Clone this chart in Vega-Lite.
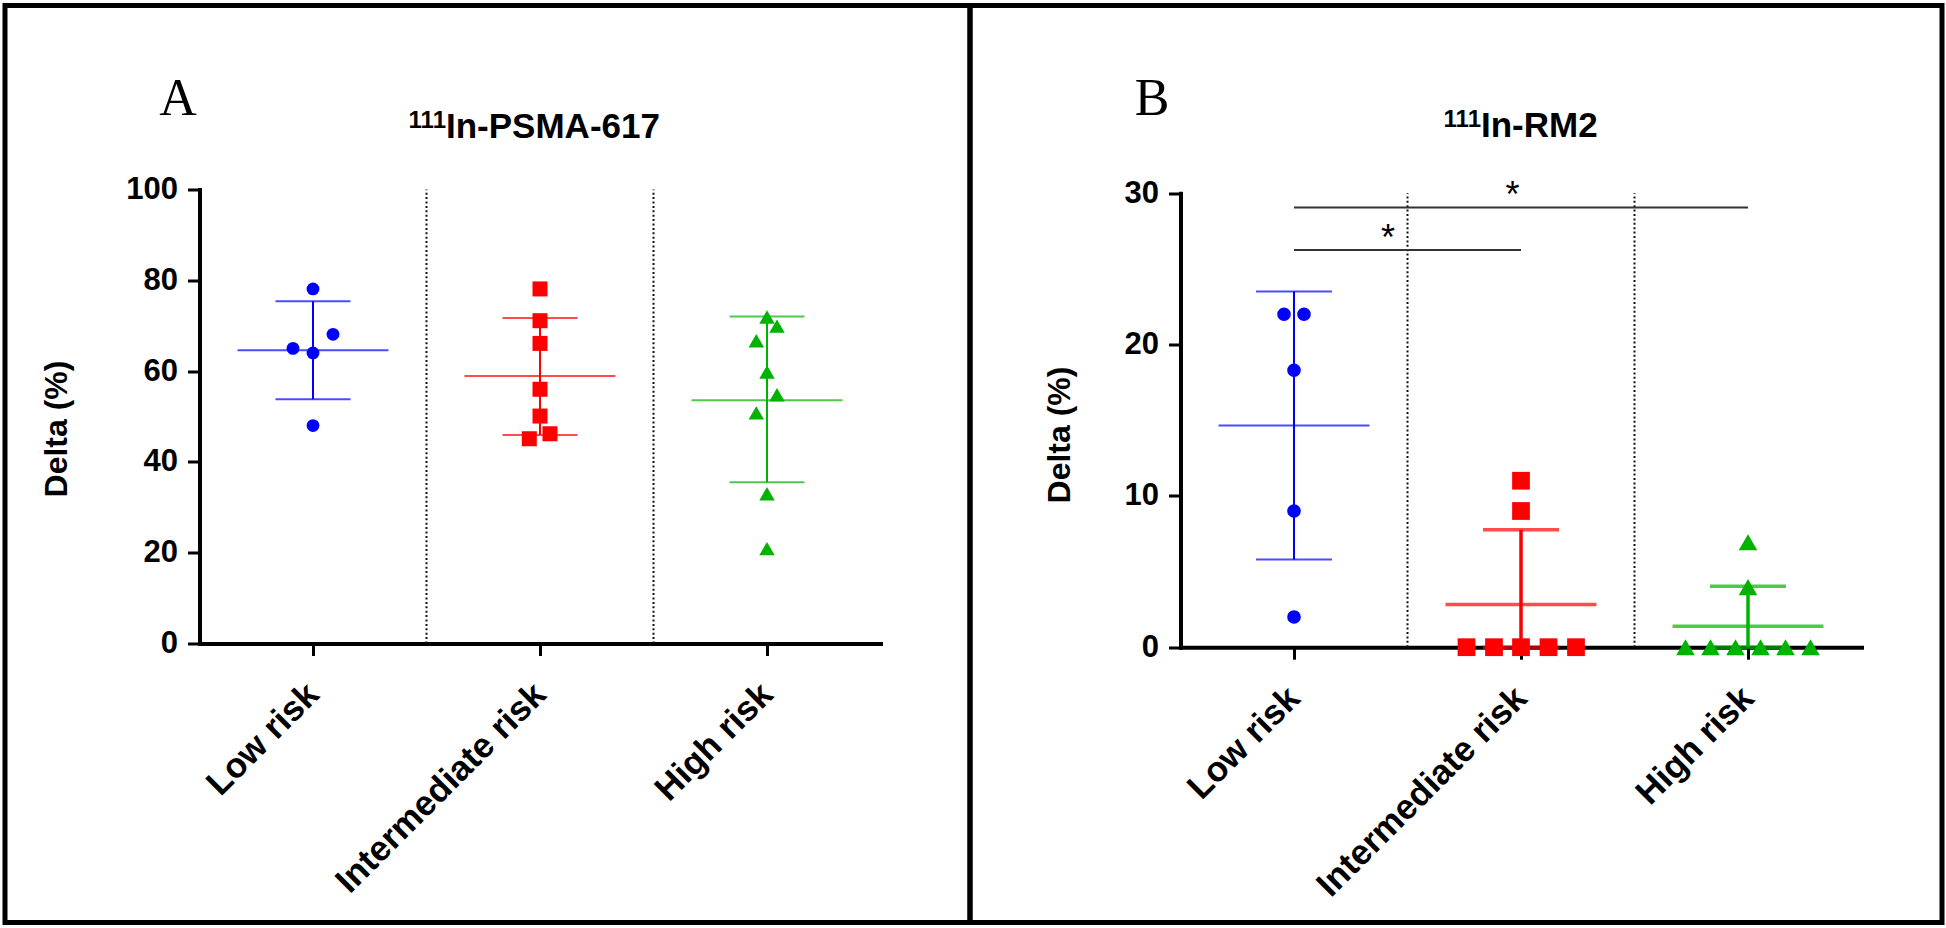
{
  "$schema": "https://vega.github.io/schema/vega-lite/v6.json",
  "background": "white",
  "padding": {"left": 2, "top": 2.5, "right": 0, "bottom": 0},
  "spacing": 0,
  "bounds": "flush",
  "config": {
    "font": "Liberation Sans",
    "view": {"stroke": "black", "strokeWidth": 5},
    "axis": {"grid": false, "domainColor": "black", "tickColor": "black", "labelColor": "black", "titleColor": "black", "domainWidth": 4, "tickWidth": 3, "tickSize": 12, "labelFont": "Liberation Sans", "titleFont": "Liberation Sans", "labelFontWeight": "bold", "titleFontWeight": "bold", "titleFontSize": 32, "labelFlush": false, "labelOverlap": false, "labelLimit": 0, "domainCap": "square"}
  },
  "datasets": {
    "points": [
      {"panel": "A", "group": "Low risk", "value": 78.1, "slot": 0},
      {"panel": "A", "group": "Low risk", "value": 68.1, "slot": 2},
      {"panel": "A", "group": "Low risk", "value": 65.0, "slot": -2},
      {"panel": "A", "group": "Low risk", "value": 64.0, "slot": 0},
      {"panel": "A", "group": "Low risk", "value": 48.0, "slot": 0},
      {"panel": "A", "group": "Intermediate risk", "value": 78.1, "slot": 0},
      {"panel": "A", "group": "Intermediate risk", "value": 71.1, "slot": 0},
      {"panel": "A", "group": "Intermediate risk", "value": 66.1, "slot": 0},
      {"panel": "A", "group": "Intermediate risk", "value": 56.0, "slot": 0},
      {"panel": "A", "group": "Intermediate risk", "value": 50.1, "slot": 0},
      {"panel": "A", "group": "Intermediate risk", "value": 45.1, "slot": -1.07},
      {"panel": "A", "group": "Intermediate risk", "value": 46.2, "slot": 1},
      {"panel": "A", "group": "High risk", "value": 71.9, "slot": 0},
      {"panel": "A", "group": "High risk", "value": 69.9, "slot": 1},
      {"panel": "A", "group": "High risk", "value": 66.7, "slot": -1.07},
      {"panel": "A", "group": "High risk", "value": 59.8, "slot": 0},
      {"panel": "A", "group": "High risk", "value": 54.8, "slot": 1},
      {"panel": "A", "group": "High risk", "value": 50.8, "slot": -1.07},
      {"panel": "A", "group": "High risk", "value": 33.0, "slot": 0},
      {"panel": "A", "group": "High risk", "value": 20.9, "slot": 0},
      {"panel": "B", "group": "Low risk", "value": 22.0, "slot": -1},
      {"panel": "B", "group": "Low risk", "value": 22.0, "slot": 1},
      {"panel": "B", "group": "Low risk", "value": 18.3, "slot": 0},
      {"panel": "B", "group": "Low risk", "value": 9.0, "slot": 0},
      {"panel": "B", "group": "Low risk", "value": 2.0, "slot": 0},
      {"panel": "B", "group": "Intermediate risk", "value": 11.0, "slot": 0},
      {"panel": "B", "group": "Intermediate risk", "value": 9.0, "slot": 0},
      {"panel": "B", "group": "Intermediate risk", "value": 0, "slot": -5.45},
      {"panel": "B", "group": "Intermediate risk", "value": 0, "slot": -2.7},
      {"panel": "B", "group": "Intermediate risk", "value": 0, "slot": 0},
      {"panel": "B", "group": "Intermediate risk", "value": 0, "slot": 2.75},
      {"panel": "B", "group": "Intermediate risk", "value": 0, "slot": 5.5},
      {"panel": "B", "group": "High risk", "value": 6.94, "slot": 0},
      {"panel": "B", "group": "High risk", "value": 3.97, "slot": 0},
      {"panel": "B", "group": "High risk", "value": 0, "slot": -6.25},
      {"panel": "B", "group": "High risk", "value": 0, "slot": -3.75},
      {"panel": "B", "group": "High risk", "value": 0, "slot": -1.25},
      {"panel": "B", "group": "High risk", "value": 0, "slot": 1.25},
      {"panel": "B", "group": "High risk", "value": 0, "slot": 3.75},
      {"panel": "B", "group": "High risk", "value": 0, "slot": 6.25}
    ],
    "summary": [
      {"panel": "A", "group": "Low risk", "mean": 64.6, "lo": 53.8, "hi": 75.4},
      {"panel": "A", "group": "Intermediate risk", "mean": 58.9, "lo": 45.9, "hi": 71.7},
      {"panel": "A", "group": "High risk", "mean": 53.6, "lo": 35.5, "hi": 72.0},
      {"panel": "B", "group": "Low risk", "mean": 14.65, "lo": 5.8, "hi": 23.5},
      {"panel": "B", "group": "Intermediate risk", "mean": 2.82, "lo": 0, "hi": 7.76},
      {"panel": "B", "group": "High risk", "mean": 1.39, "lo": 0, "hi": 4.03}
    ],
    "separators": [
      {"panel": "A", "group": "Intermediate risk"},
      {"panel": "A", "group": "High risk"},
      {"panel": "B", "group": "Intermediate risk"},
      {"panel": "B", "group": "High risk"}
    ],
    "sig": [
      {"from": "Low risk", "to": "High risk", "y": 29.06, "star": "*", "at": "Intermediate risk", "shift": -0.85},
      {"from": "Low risk", "to": "Intermediate risk", "y": 26.24, "star": "*", "at": "Low risk", "shift": 9.4}
    ]
  },
  "hconcat": [
    {
      "width": 965,
      "height": 917,
      "layer": [
        {
          "data": {"name": "separators"},
          "transform": [{"filter": "datum.panel === 'A'"}],
          "mark": {"type": "rule", "color": "#111111", "strokeWidth": 2, "strokeDash": [2, 2.4]},
          "encoding": {
            "x": {"field": "group", "type": "nominal", "bandPosition": 0, "title": null, "scale": {"domain": ["Low risk", "Intermediate risk", "High risk"], "range": [194.5, 875.5], "paddingInner": 0, "paddingOuter": 0}, "axis": {"title": null, "offset": -279, "labelAngle": -45, "labelAlign": "right", "labelBaseline": "middle", "labelFontSize": 35, "labelPadding": 33}},
            "y": {"datum": 0, "type": "quantitative", "title": "Delta (%)", "scale": {"domain": [0, 100], "range": [638, 184], "nice": false, "zero": false}, "axis": {"title": "Delta (%)", "values": [0, 20, 40, 60, 80, 100], "offset": -194.5, "labelFontSize": 31, "labelPadding": 10, "titleFontSize": 32, "titlePadding": 52, "titleY": 423}},
            "y2": {"datum": 100}
          }
        },
        {
          "data": {"name": "summary"},
          "transform": [{"filter": "datum.panel === 'A'"}],
          "mark": {"type": "rule", "strokeWidth": 2},
          "encoding": {
            "x": {"field": "group", "type": "nominal", "title": null},
            "y": {"field": "lo", "type": "quantitative", "title": "Delta (%)"},
            "y2": {"field": "hi"},
            "color": {"field": "group", "type": "nominal", "scale": {"domain": ["Low risk", "Intermediate risk", "High risk"], "range": ["#0000FF", "#FF0000", "#00B300"]}, "legend": null}
          }
        },
        {
          "data": {"name": "summary"},
          "transform": [{"filter": "datum.panel === 'A'"}],
          "mark": {"type": "tick", "thickness": 2, "size": 151},
          "encoding": {
            "x": {"field": "group", "type": "nominal", "title": null},
            "y": {"field": "mean", "type": "quantitative", "title": "Delta (%)"},
            "color": {"field": "group", "type": "nominal", "legend": null}
          }
        },
        {
          "data": {"name": "summary"},
          "transform": [{"filter": "datum.panel === 'A'"}, {"fold": ["lo", "hi"], "as": ["end", "level"]}],
          "mark": {"type": "tick", "thickness": 2, "size": 75},
          "encoding": {
            "x": {"field": "group", "type": "nominal", "title": null},
            "y": {"field": "level", "type": "quantitative", "title": "Delta (%)"},
            "color": {"field": "group", "type": "nominal", "legend": null}
          }
        },
        {
          "data": {"name": "points"},
          "transform": [{"filter": "datum.panel === 'A' && datum.group === 'Low risk'"}],
          "mark": {"type": "point", "shape": "circle", "size": 165, "filled": true, "opacity": 1, "strokeWidth": 0},
          "encoding": {
            "x": {"field": "group", "type": "nominal", "title": null},
            "xOffset": {"field": "slot", "type": "quantitative", "scale": {"domain": [-11.35, 11.35], "range": [0, 227]}},
            "y": {"field": "value", "type": "quantitative", "title": "Delta (%)"},
            "color": {"field": "group", "type": "nominal", "legend": null}
          }
        },
        {
          "data": {"name": "points"},
          "transform": [{"filter": "datum.panel === 'A' && datum.group === 'Intermediate risk'"}],
          "mark": {"type": "point", "shape": "square", "size": 225, "filled": true, "opacity": 1, "strokeWidth": 0},
          "encoding": {
            "x": {"field": "group", "type": "nominal", "title": null},
            "xOffset": {"field": "slot", "type": "quantitative"},
            "y": {"field": "value", "type": "quantitative", "title": "Delta (%)"},
            "color": {"field": "group", "type": "nominal", "legend": null}
          }
        },
        {
          "data": {"name": "points"},
          "transform": [{"filter": "datum.panel === 'A' && datum.group === 'High risk'"}],
          "mark": {"type": "point", "shape": "triangle-up", "size": 240, "filled": true, "opacity": 1, "strokeWidth": 0},
          "encoding": {
            "x": {"field": "group", "type": "nominal", "title": null},
            "xOffset": {"field": "slot", "type": "quantitative"},
            "y": {"field": "value", "type": "quantitative", "title": "Delta (%)"},
            "color": {"field": "group", "type": "nominal", "legend": null}
          }
        },
        {
          "data": {"values": [{}]},
          "mark": {"type": "text", "text": "A", "font": "Liberation Serif", "fontSize": 52, "align": "center", "baseline": "alphabetic", "color": "black"},
          "encoding": {
            "x": {"datum": "Low risk", "type": "nominal", "title": null},
            "xOffset": {"datum": -13.5, "type": "quantitative"},
            "y": {"datum": 116.5, "type": "quantitative", "title": "Delta (%)"}
          }
        },
        {
          "data": {"values": [{}]},
          "mark": {"type": "text", "text": "111", "fontSize": 24, "fontWeight": "bold", "align": "right", "baseline": "alphabetic", "color": "black"},
          "encoding": {
            "x": {"datum": "Low risk", "type": "nominal", "title": null},
            "xOffset": {"datum": 13.3, "type": "quantitative"},
            "y": {"datum": 113.65, "type": "quantitative", "title": "Delta (%)"}
          }
        },
        {
          "data": {"values": [{}]},
          "mark": {"type": "text", "text": "In-PSMA-617", "fontSize": 35, "fontWeight": "bold", "align": "left", "baseline": "alphabetic", "color": "black"},
          "encoding": {
            "x": {"datum": "Low risk", "type": "nominal", "title": null},
            "xOffset": {"datum": 13.3, "type": "quantitative"},
            "y": {"datum": 111.45, "type": "quantitative", "title": "Delta (%)"}
          }
        }
      ]
    },
    {
      "width": 972,
      "height": 917,
      "layer": [
        {
          "data": {"name": "separators"},
          "transform": [{"filter": "datum.panel === 'B'"}],
          "mark": {"type": "rule", "color": "#111111", "strokeWidth": 2, "strokeDash": [2, 2.4]},
          "encoding": {
            "x": {"field": "group", "type": "nominal", "bandPosition": 0, "title": null, "scale": {"domain": ["Low risk", "Intermediate risk", "High risk"], "range": [210.5, 891.5], "paddingInner": 0, "paddingOuter": 0}, "axis": {"title": null, "offset": -275.3, "labelAngle": -45, "labelAlign": "right", "labelBaseline": "middle", "labelFontSize": 35, "labelPadding": 33}},
            "y": {"datum": 0, "type": "quantitative", "title": "Delta (%)", "scale": {"domain": [0, 30], "range": [641.7, 187.7], "nice": false, "zero": false}, "axis": {"title": "Delta (%)", "values": [0, 10, 20, 30], "offset": -210.5, "labelFontSize": 31, "labelPadding": 10, "titleFontSize": 32, "titlePadding": 48, "titleY": 429}},
            "y2": {"datum": 30}
          }
        },
        {
          "data": {"name": "sig"},
          "mark": {"type": "rule", "color": "#333333", "strokeWidth": 2},
          "encoding": {
            "x": {"field": "from", "type": "nominal", "title": null},
            "x2": {"field": "to"},
            "y": {"field": "y", "type": "quantitative", "title": "Delta (%)"}
          }
        },
        {
          "data": {"name": "sig"},
          "mark": {"type": "text", "fontSize": 36, "align": "center", "baseline": "alphabetic", "color": "black"},
          "encoding": {
            "x": {"field": "at", "type": "nominal", "title": null},
            "xOffset": {"field": "shift", "type": "quantitative", "scale": {"domain": [-11.35, 11.35], "range": [0, 227]}},
            "y": {"field": "y", "type": "quantitative", "title": "Delta (%)"},
            "text": {"field": "star"}
          }
        },
        {
          "data": {"name": "summary"},
          "transform": [{"filter": "datum.panel === 'B' && datum.group === 'Low risk'"}],
          "mark": {"type": "rule", "strokeWidth": 2},
          "encoding": {
            "x": {"field": "group", "type": "nominal", "title": null},
            "y": {"field": "lo", "type": "quantitative", "title": "Delta (%)"},
            "y2": {"field": "hi"},
            "color": {"field": "group", "type": "nominal", "scale": {"domain": ["Low risk", "Intermediate risk", "High risk"], "range": ["#0000FF", "#FF0000", "#00B300"]}, "legend": null}
          }
        },
        {
          "data": {"name": "summary"},
          "transform": [{"filter": "datum.panel === 'B' && datum.group !== 'Low risk'"}],
          "mark": {"type": "rule", "strokeWidth": 3.5},
          "encoding": {
            "x": {"field": "group", "type": "nominal", "title": null},
            "y": {"field": "lo", "type": "quantitative", "title": "Delta (%)"},
            "y2": {"field": "hi"},
            "color": {"field": "group", "type": "nominal", "legend": null}
          }
        },
        {
          "data": {"name": "summary"},
          "transform": [{"filter": "datum.panel === 'B' && datum.group === 'Low risk'"}, {"fold": ["lo", "hi"], "as": ["end", "level"]}],
          "mark": {"type": "tick", "thickness": 2, "size": 76},
          "encoding": {
            "x": {"field": "group", "type": "nominal", "title": null},
            "y": {"field": "level", "type": "quantitative", "title": "Delta (%)"},
            "color": {"field": "group", "type": "nominal", "legend": null}
          }
        },
        {
          "data": {"name": "summary"},
          "transform": [{"filter": "datum.panel === 'B' && datum.group !== 'Low risk'"}, {"fold": ["lo", "hi"], "as": ["end", "level"]}],
          "mark": {"type": "tick", "thickness": 3.5, "size": 76},
          "encoding": {
            "x": {"field": "group", "type": "nominal", "title": null},
            "y": {"field": "level", "type": "quantitative", "title": "Delta (%)"},
            "color": {"field": "group", "type": "nominal", "legend": null}
          }
        },
        {
          "data": {"name": "summary"},
          "transform": [{"filter": "datum.panel === 'B' && datum.group === 'Low risk'"}],
          "mark": {"type": "tick", "thickness": 2, "size": 151},
          "encoding": {
            "x": {"field": "group", "type": "nominal", "title": null},
            "y": {"field": "mean", "type": "quantitative", "title": "Delta (%)"},
            "color": {"field": "group", "type": "nominal", "legend": null}
          }
        },
        {
          "data": {"name": "summary"},
          "transform": [{"filter": "datum.panel === 'B' && datum.group !== 'Low risk'"}],
          "mark": {"type": "tick", "thickness": 3.5, "size": 151},
          "encoding": {
            "x": {"field": "group", "type": "nominal", "title": null},
            "y": {"field": "mean", "type": "quantitative", "title": "Delta (%)"},
            "color": {"field": "group", "type": "nominal", "legend": null}
          }
        },
        {
          "data": {"name": "points"},
          "transform": [{"filter": "datum.panel === 'B' && datum.group === 'Low risk'"}],
          "mark": {"type": "point", "shape": "circle", "size": 185, "filled": true, "opacity": 1, "strokeWidth": 0},
          "encoding": {
            "x": {"field": "group", "type": "nominal", "title": null},
            "xOffset": {"field": "slot", "type": "quantitative"},
            "y": {"field": "value", "type": "quantitative", "title": "Delta (%)"},
            "color": {"field": "group", "type": "nominal", "legend": null}
          }
        },
        {
          "data": {"name": "points"},
          "transform": [{"filter": "datum.panel === 'B' && datum.group === 'Intermediate risk'"}],
          "mark": {"type": "point", "shape": "square", "size": 315, "filled": true, "opacity": 1, "strokeWidth": 0},
          "encoding": {
            "x": {"field": "group", "type": "nominal", "title": null},
            "xOffset": {"field": "slot", "type": "quantitative"},
            "y": {"field": "value", "type": "quantitative", "title": "Delta (%)"},
            "color": {"field": "group", "type": "nominal", "legend": null}
          }
        },
        {
          "data": {"name": "points"},
          "transform": [{"filter": "datum.panel === 'B' && datum.group === 'High risk'"}],
          "mark": {"type": "point", "shape": "triangle-up", "size": 345, "filled": true, "opacity": 1, "strokeWidth": 0},
          "encoding": {
            "x": {"field": "group", "type": "nominal", "title": null},
            "xOffset": {"field": "slot", "type": "quantitative"},
            "y": {"field": "value", "type": "quantitative", "title": "Delta (%)"},
            "color": {"field": "group", "type": "nominal", "legend": null}
          }
        },
        {
          "data": {"values": [{}]},
          "mark": {"type": "text", "text": "B", "font": "Liberation Serif", "fontSize": 52, "align": "center", "baseline": "alphabetic", "color": "black"},
          "encoding": {
            "x": {"datum": "Low risk", "type": "nominal", "title": null},
            "xOffset": {"datum": -14.2, "type": "quantitative"},
            "y": {"datum": 35.2, "type": "quantitative", "title": "Delta (%)"}
          }
        },
        {
          "data": {"values": [{}]},
          "mark": {"type": "text", "text": "111", "fontSize": 24, "fontWeight": "bold", "align": "right", "baseline": "alphabetic", "color": "black"},
          "encoding": {
            "x": {"datum": "Intermediate risk", "type": "nominal", "title": null},
            "xOffset": {"datum": -4.0, "type": "quantitative"},
            "y": {"datum": 34.35, "type": "quantitative", "title": "Delta (%)"}
          }
        },
        {
          "data": {"values": [{}]},
          "mark": {"type": "text", "text": "In-RM2", "fontSize": 35, "fontWeight": "bold", "align": "left", "baseline": "alphabetic", "color": "black"},
          "encoding": {
            "x": {"datum": "Intermediate risk", "type": "nominal", "title": null},
            "xOffset": {"datum": -4.0, "type": "quantitative"},
            "y": {"datum": 33.69, "type": "quantitative", "title": "Delta (%)"}
          }
        }
      ]
    }
  ]
}
